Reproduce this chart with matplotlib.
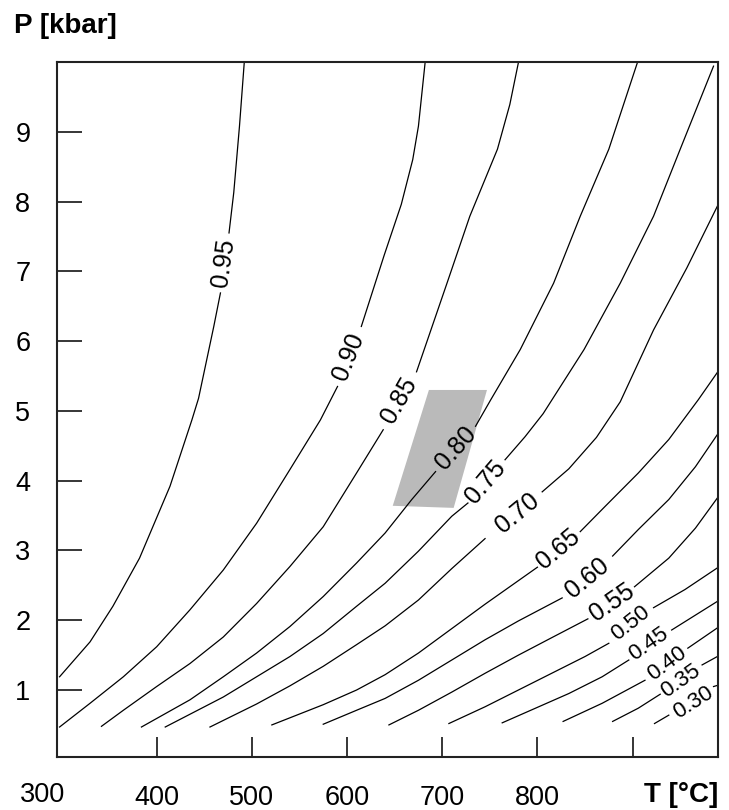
import numpy as np
import matplotlib
matplotlib.use("Agg")
import matplotlib.pyplot as plt

plt.rcParams['font.family'] = ['Liberation Sans', 'DejaVu Sans']

# isopleths: T [°C], P [kbar]
# the point at index lab_* is where the inline label sits (line is cut there)
t95 = [298, 330, 354, 382, 414, 437, 444, 460, 467, 470, 476, 481, 487, 492]
p95 = [1.19, 1.69, 2.20, 2.89, 3.92, 4.87, 5.18, 6.21, 6.69, 7.12, 7.55, 8.13, 9.08, 9.99]
t90 = [298, 330, 365, 400, 435, 470, 505, 540, 572, 590, 602, 615, 639, 657, 669, 675, 682]
p90 = [0.47, 0.81, 1.19, 1.62, 2.15, 2.72, 3.39, 4.16, 4.87, 5.35, 5.78, 6.21, 7.23, 7.96, 8.60, 9.08, 9.99]
t85 = [342, 365, 400, 435, 470, 505, 540, 575, 610, 638, 655, 673, 705, 729, 758, 771, 780]
p85 = [0.48, 0.71, 1.05, 1.38, 1.76, 2.24, 2.77, 3.34, 4.11, 4.73, 5.15, 5.56, 6.83, 7.79, 8.75, 9.39, 9.99]
t80 = [384, 435, 470, 505, 540, 575, 610, 640, 668, 693, 714, 735, 751, 782, 817, 845, 875, 905]
p80 = [0.47, 0.86, 1.19, 1.53, 1.91, 2.34, 2.82, 3.25, 3.73, 4.13, 4.47, 4.78, 5.16, 5.88, 6.83, 7.79, 8.75, 9.99]
t75 = [409, 470, 505, 540, 575, 610, 640, 675, 710, 727, 745, 766, 787, 806, 849, 887, 922, 950, 985]
p75 = [0.47, 0.90, 1.19, 1.48, 1.81, 2.20, 2.53, 2.99, 3.49, 3.68, 3.98, 4.30, 4.63, 4.96, 5.88, 6.83, 7.79, 8.75, 9.94]
t70 = [456, 505, 540, 575, 610, 640, 675, 710, 745, 779, 805, 833, 862, 887, 922, 957, 990]
p70 = [0.47, 0.80, 1.06, 1.34, 1.65, 1.92, 2.29, 2.74, 3.17, 3.54, 3.84, 4.17, 4.62, 5.13, 6.16, 7.05, 7.96]
t65 = [521, 575, 610, 640, 675, 710, 745, 800, 822, 845, 871, 906, 938, 969, 990]
p65 = [0.50, 0.79, 1.00, 1.22, 1.53, 1.88, 2.23, 2.76, 3.02, 3.27, 3.63, 4.11, 4.59, 5.16, 5.57]
t60 = [575, 610, 640, 675, 710, 745, 780, 826, 852, 879, 906, 938, 966, 990]
p60 = [0.51, 0.71, 0.88, 1.14, 1.43, 1.72, 1.99, 2.32, 2.61, 2.92, 3.30, 3.73, 4.20, 4.68]
t55 = [644, 675, 710, 745, 780, 815, 853, 878, 902, 938, 966, 990]
p55 = [0.50, 0.71, 0.97, 1.24, 1.50, 1.75, 2.02, 2.25, 2.48, 2.89, 3.32, 3.77]
t50 = [707, 745, 780, 815, 850, 875, 898, 922, 955, 989]
p50 = [0.52, 0.76, 1.00, 1.24, 1.48, 1.67, 1.96, 2.18, 2.44, 2.75]
t45 = [763, 798, 833, 868, 896, 917, 941, 989]
p45 = [0.53, 0.74, 0.95, 1.19, 1.43, 1.66, 1.86, 2.27]
t40 = [827, 868, 913, 936, 958, 989]
p40 = [0.55, 0.81, 1.14, 1.38, 1.60, 1.89]
t35 = [879, 906, 929, 950, 973, 989]
p35 = [0.55, 0.74, 0.94, 1.13, 1.36, 1.48]
t30 = [923, 938, 964, 985, 990]
p30 = [0.52, 0.64, 0.82, 1.05, 1.07]

levels = ['0.95', '0.90', '0.85', '0.80', '0.75', '0.70', '0.65', '0.60', '0.55',
          '0.50', '0.45', '0.40', '0.35', '0.30']
curves_t = [t95, t90, t85, t80, t75, t70, t65, t60, t55, t50, t45, t40, t35, t30]
curves_p = [p95, p90, p85, p80, p75, p70, p65, p60, p55, p50, p45, p40, p35, p30]
lab_idx = [9, 10, 10, 10, 10, 9, 8, 8, 7, 6, 5, 3, 3, 2]

# shaded P-T field
box_t = [648, 686, 747, 712]
box_p = [3.64, 5.30, 5.30, 3.61]

fig = plt.figure(figsize=(7.29, 8.10), dpi=100)
ax = fig.add_axes([0.0778, 0.0654, 0.9075, 0.8581])
ax.set_xlim(295, 990)
ax.set_ylim(0.04, 10.0)

ax.fill(box_t, box_p, color='#bababa', lw=0, zorder=1)

for lev, tt, pp, k in zip(levels, curves_t, curves_p, lab_idx):
    ax.plot(tt[:k], pp[:k], color='black', lw=0.9, zorder=2)
    ax.plot(tt[k + 1:], pp[k + 1:], color='black', lw=0.9, zorder=2)
    a = ax.transData.transform((tt[k - 1], pp[k - 1]))
    b = ax.transData.transform((tt[k + 1], pp[k + 1]))
    ang = np.degrees(np.arctan2(b[1] - a[1], b[0] - a[0]))
    fs = 18 if float(lev) >= 0.55 else 16
    ax.text(tt[k], pp[k], lev, rotation=ang, rotation_mode='anchor',
            ha='center', va='center', fontsize=fs, zorder=3)

ax.set_xticks([400, 500, 600, 700, 800, 900])
ax.set_xticklabels(['400', '500', '600', '700', '800', ''])
ax.set_yticks([1, 2, 3, 4, 5, 6, 7, 8, 9])
ax.tick_params(axis='x', direction='in', length=14.5, width=1.1, pad=20, labelsize=19.5)
ax.tick_params(axis='y', direction='in', length=18, width=1.1, pad=19, labelsize=19.5)
for s in ax.spines.values():
    s.set_linewidth(1.5)
    s.set_color('#222222')

fig.text(0.059, 0.0185, '300', fontsize=19.5, ha='center', va='center')
fig.text(0.985, 0.0185, 'T [°C]', fontsize=20, fontweight='bold', ha='right', va='center')
fig.text(0.019, 0.968, 'P [kbar]', fontsize=20, fontweight='bold', ha='left', va='center')

fig.savefig('out.png', dpi=100)
